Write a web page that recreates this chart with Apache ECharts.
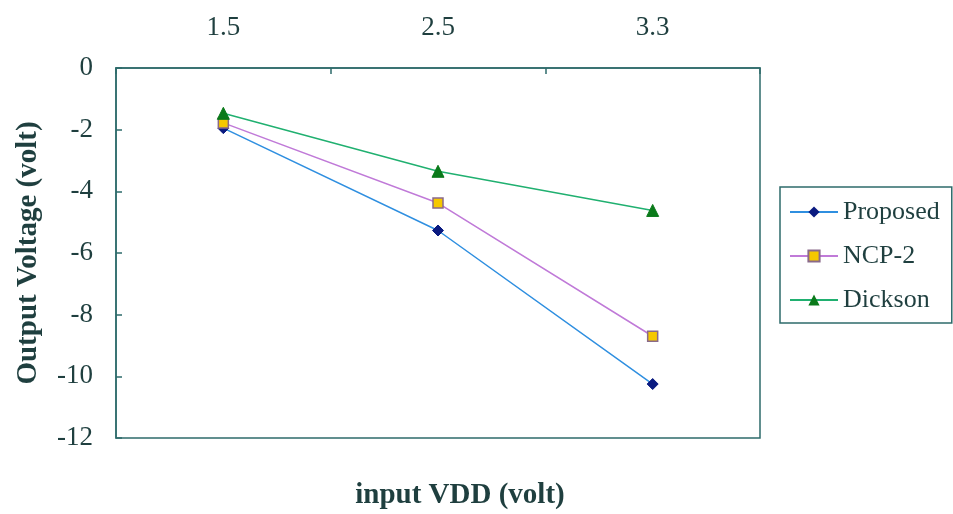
<!DOCTYPE html>
<html><head><meta charset="utf-8">
<script src="https://cdn.jsdelivr.net/npm/echarts@6/dist/echarts.min.js"></script>
<style>html,body{margin:0;padding:0;background:#fff}#c{width:953px;height:514px}</style>
</head><body><div id="c"></div>
<script>
const categories = ['1.5', '2.5', '3.3'];
const proposed = [-1.95, -5.27, -10.25];
const ncp2 = [-1.78, -4.38, -8.70];
const dickson = [-1.47, -3.35, -4.62];
const yMin = -12, yMax = 0, yStep = 2;
const xTitle = 'input VDD (volt)';
const yTitle = 'Output Voltage (volt)';

const serif = "'Liberation Serif','Times New Roman',serif";
const txt = '#1f3f3f';
const frame = '#2e6b6b';
const chart = echarts.init(document.getElementById('c'));
chart.setOption({
  backgroundColor: '#fff',
  animation: false,
  title: {
    text: xTitle, left: 455, top: 476, textAlign: 'center',
    textStyle: {fontFamily: serif, fontWeight: 'bold', fontSize: 29, color: txt}
  },
  grid: {left: 116, top: 68, right: 193, bottom: 76, outerBoundsMode: 'none', containLabel: false,
         show: true, borderColor: frame, borderWidth: 1.5, backgroundColor: 'transparent'},
  xAxis: {
    type: 'category', position: 'top', data: categories, boundaryGap: true,
    axisLine: {show: true, lineStyle: {color: frame, width: 1.5}},
    axisTick: {show: true, inside: true, length: 6, lineStyle: {color: frame, width: 1.5}},
    axisLabel: {fontFamily: serif, fontSize: 27, color: txt, margin: 27},
    splitLine: {show: false}
  },
  yAxis: {
    type: 'value', min: yMin, max: yMax, interval: yStep,
    name: yTitle, nameLocation: 'middle', nameGap: 73,
    nameTextStyle: {fontFamily: serif, fontWeight: 'bold', fontSize: 29, color: txt},
    axisLine: {show: true, lineStyle: {color: frame, width: 1.5}},
    axisTick: {show: true, inside: true, length: 6, lineStyle: {color: frame, width: 1.5}},
    axisLabel: {fontFamily: serif, fontSize: 27, color: txt, margin: 23},
    splitLine: {show: false}
  },
  legend: {
    orient: 'vertical', left: 780, top: 187, width: 172,
    backgroundColor: '#fff', borderColor: frame, borderWidth: 1.5,
    padding: [12, 12, 10, 9], itemGap: 18, itemWidth: 48, itemHeight: 14,
    textStyle: {fontFamily: serif, fontSize: 26, color: txt},
    data: ['Proposed', 'NCP-2', 'Dickson']
  },
  series: [
    {name: 'Proposed', type: 'line', data: proposed, symbol: 'diamond', symbolSize: 11,
     lineStyle: {color: '#2f8fe0', width: 1.5}, itemStyle: {color: '#0a1a80', borderColor: '#0a1a80'}},
    {name: 'NCP-2', type: 'line', data: ncp2, symbol: 'rect', symbolSize: 10,
     lineStyle: {color: '#c07ad8', width: 1.5}, itemStyle: {color: '#f5c800', borderColor: '#8a6a8a', borderWidth: 1.5}},
    {name: 'Dickson', type: 'line', data: dickson, symbol: 'triangle', symbolSize: 12,
     lineStyle: {color: '#20b070', width: 1.5}, itemStyle: {color: '#0a7a1a', borderColor: '#0a7a1a'}}
  ]
});
</script></body></html>
